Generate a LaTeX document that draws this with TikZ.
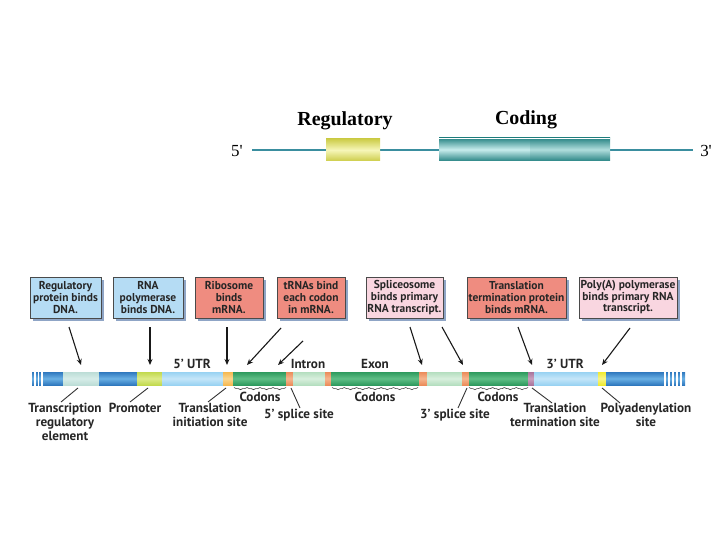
\documentclass[tikz,border=0pt]{standalone}
\usepackage{fontspec}
\setmainfont{PT Sans}
\newfontfamily\tnr{Liberation Serif}
\usetikzlibrary{decorations.pathreplacing,arrows.meta,shadows}
\definecolor{boxblue}{HTML}{B5DCF4}
\definecolor{boxsalmon}{HTML}{EF8C80}
\definecolor{boxpink}{HTML}{F9D6E0}
\definecolor{shadowc}{HTML}{8FA5C6}
\definecolor{edgec}{HTML}{4A4A4A}
\definecolor{dblue}{HTML}{2F78BE}
\definecolor{dbluem}{HTML}{6AB0E4}
\definecolor{lteal}{HTML}{BCDDD6}
\definecolor{ltealm}{HTML}{D6ECE8}
\definecolor{ygreen}{HTML}{C2D94E}
\definecolor{ygreenm}{HTML}{DDEB8A}
\definecolor{lblue}{HTML}{98D2F2}
\definecolor{lbluem}{HTML}{C4E6F9}
\definecolor{oryel}{HTML}{F5B850}
\definecolor{oryelm}{HTML}{FAD690}
\definecolor{dgreen}{HTML}{2E9A5E}
\definecolor{dgreenm}{HTML}{5FBE86}
\definecolor{orng}{HTML}{EB8C5A}
\definecolor{orngm}{HTML}{F5B58E}
\definecolor{lgreen}{HTML}{B4DEBF}
\definecolor{lgreenm}{HTML}{D8EFDD}
\definecolor{purp}{HTML}{A9759C}
\definecolor{purpm}{HTML}{C9A0BE}
\definecolor{yel}{HTML}{EFEA30}
\definecolor{yelm}{HTML}{F7F48A}
\definecolor{tealc}{HTML}{2A8585}
\definecolor{tealm}{HTML}{C8EDEC}
\definecolor{cylyel}{HTML}{CDCD4A}
\definecolor{cylyelm}{HTML}{F6F6B8}
\definecolor{linec}{HTML}{3A8E9F}
\newcommand{\seg}[4]{\shade[top color=#3,bottom color=#3,middle color=#4] (#1,372) rectangle (#2,385);}
\newcommand{\braces}[3]{%
  \pgfmathsetmacro{\bw}{(#2-#1)/#3}%
  \foreach \k in {1,...,#3}{%
    \draw[bracec] ({#1+(\k-1)*\bw},387.5) -- ({#1+\k*\bw},387.5);}}
\begin{document}
\begin{tikzpicture}[x=1bp,y=-1bp,
  bx/.style={draw=edgec, line width=0.8bp, align=center, inner sep=0.5bp,
    minimum height=41bp, font=\bfseries\fontsize{11.5}{11.6}\selectfont, text=black!85,
    drop shadow={shadow xshift=2.5bp, shadow yshift=-2.5bp, fill=shadowc, opacity=1}},
  arr/.style={-{Stealth[length=6bp,width=5bp]}, line width=1.1bp, color=black!90},
  ptr/.style={line width=0.9bp, color=black!80},
  lab/.style={align=center, inner sep=0pt, font=\bfseries\fontsize{13.2}{14}\selectfont, text=black!85},
  bracec/.style={decorate, decoration={brace, amplitude=2.2bp, mirror}, line width=0.6bp, color=black!75}
]
\useasboundingbox (0,0) rectangle (720,540);

% ---------- top gene sketch ----------
\coordinate (l5) at (252,150);
\coordinate (l3) at (693,150);
\draw[linec, line width=2bp] (l5) -- (l3);
\shade[top color=cylyel, bottom color=cylyel, middle color=cylyelm] (326,139) rectangle (380,161);
\shade[top color=tealc, bottom color=tealc, middle color=tealm] (439,138) rectangle (530,161);
\shade[top color=tealc, bottom color=tealc, middle color=tealm!85!tealc] (530,138) rectangle (610,161);
\draw[white, line width=0.8bp] (439,138.6) -- (610,138.6);
\node[font=\tnr\fontsize{17}{18}\selectfont] (t5) at (237,151) {5'};
\node[font=\tnr\fontsize{17}{18}\selectfont] (t3) at (706,151) {3'};
\node[font=\tnr\bfseries\fontsize{20}{22}\selectfont] (treg) at (345,121) {Regulatory};
\node[font=\tnr\bfseries\fontsize{20}{22}\selectfont] (tcod) at (526,120) {Coding};

% ---------- boxes ----------
\node[bx, fill=boxblue, minimum width=71bp] (b1) at (65.5,297.5) {Regulatory\\protein binds\\DNA.};
\node[bx, fill=boxblue, minimum width=70bp] (b2) at (148,297.5) {RNA\\polymerase\\binds DNA.};
\node[bx, fill=boxsalmon, minimum width=68bp] (b3) at (229,297.5) {Ribosome\\binds\\mRNA.};
\node[bx, fill=boxsalmon, minimum width=68bp] (b4) at (311,297.5) {tRNAs bind\\each codon\\in mRNA.};
\node[bx, fill=boxpink, minimum width=77bp] (b5) at (404.5,297.5) {Spliceosome\\binds primary\\RNA transcript.};
\node[bx, fill=boxsalmon, minimum width=99bp] (b6) at (516.5,297.5) {Translation\\termination protein\\binds mRNA.};
\node[bx, fill=boxpink, minimum width=98bp] (b7) at (628,297.5) {Poly(A) polymerase\\binds primary RNA\\transcript.};

% ---------- bar ----------
\seg{32}{63}{dblue}{dbluem}
\seg{63}{99}{lteal}{ltealm}
\seg{99}{137}{dblue}{dbluem}
\seg{137}{162}{ygreen}{ygreenm}
\seg{162}{223}{lblue}{lbluem}
\seg{223}{233}{oryel}{oryelm}
\seg{233}{286}{dgreen}{dgreenm}
\seg{286}{293}{orng}{orngm}
\seg{293}{325}{lgreen}{lgreenm}
\seg{325}{331}{orng}{orngm}
\seg{331}{419}{dgreen}{dgreenm}
\seg{419}{427}{orng}{orngm}
\seg{427}{462}{lgreen}{lgreenm}
\seg{462}{469}{orng}{orngm}
\seg{469}{528}{dgreen}{dgreenm}
\seg{528}{534}{purp}{purpm}
\seg{534}{598}{lblue}{lbluem}
\seg{598}{606}{yel}{yelm}
\seg{606}{685}{dblue}{dbluem}
\foreach \xx in {35,38.5,42,665,669,673,677,681}{\draw[white, line width=1.1bp] (\xx,371.5) -- (\xx,385.5);}

% codon braces
\braces{234}{286}{4}
\braces{332}{418}{7}
\braces{469}{528}{5}

% labels above bar
\node[lab] (utr5) at (192,364) {5’ UTR};
\node[lab] (intr) at (308,364) {Intron};
\node[lab] (exon) at (375,364) {Exon};
\node[lab] (utr3) at (565,364) {3’ UTR};
\node[lab] (cod1) at (260,397) {Codons};
\node[lab] (cod2) at (375,397) {Codons};
\node[lab] (cod3) at (498,397) {Codons};

% labels below bar
\node[lab, anchor=north] (ltre) at (65,403) {Transcription\\regulatory\\element};
\node[lab, anchor=north] (lpro) at (135,403) {Promoter};
\node[lab, anchor=north] (ltis) at (210,403) {Translation\\initiation site};
\node[lab, anchor=north] (l5ss) at (299,409) {5’ splice site};
\node[lab, anchor=north] (l3ss) at (455,409) {3’ splice site};
\node[lab, anchor=north] (ltts) at (555,403) {Translation\\termination site};
\node[lab, anchor=north] (lpas) at (646,403) {Polyadenylation\\site};

% pointer lines
\coordinate (p1a) at (78,388);  \coordinate (p1b) at (61,402);
\coordinate (p2a) at (148,388); \coordinate (p2b) at (130,402);
\coordinate (p3a) at (226,388); \coordinate (p3b) at (208,402);
\coordinate (p4a) at (291,388); \coordinate (p4b) at (300,408);
\coordinate (p5a) at (467,388); \coordinate (p5b) at (458,408);
\coordinate (p6a) at (532,388); \coordinate (p6b) at (552,403);
\coordinate (p7a) at (602,388); \coordinate (p7b) at (620,403);
\foreach \i in {1,...,7}{\draw[ptr] (p\i a) -- (p\i b);}

% arrows
\coordinate (a1s) at (69,327);  \coordinate (a1e) at (81,365);
\coordinate (a2s) at (150,327); \coordinate (a2e) at (150,365);
\coordinate (a3s) at (227,327); \coordinate (a3e) at (227,365);
\coordinate (a4s) at (281,328); \coordinate (a4e) at (247,365);
\coordinate (a5s) at (303,341); \coordinate (a5e) at (278,365);
\coordinate (a6s) at (410,327); \coordinate (a6e) at (422,365);
\coordinate (a7s) at (442,327); \coordinate (a7e) at (463,365);
\coordinate (a8s) at (518,327); \coordinate (a8e) at (532,365);
\coordinate (a9s) at (630,328); \coordinate (a9e) at (602,365);
\foreach \i in {1,...,9}{\draw[arr] (a\i s) -- (a\i e);}
\end{tikzpicture}
\end{document}
